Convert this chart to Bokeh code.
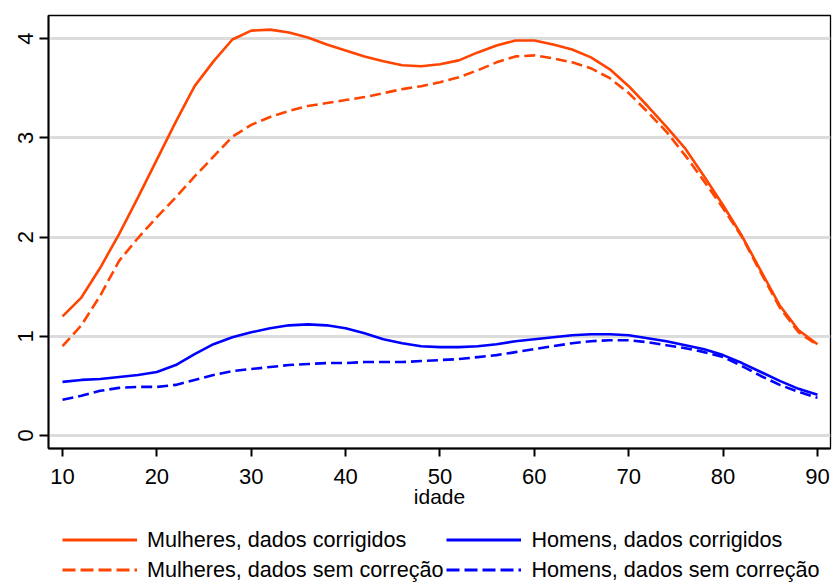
from bokeh.plotting import figure
from bokeh.models import Range1d, Legend, LegendItem, FixedTicker
from bokeh.layouts import column
from bokeh.embed import file_html
from bokeh.resources import INLINE

# ---- data ----
idade = [10, 12, 14, 16, 18, 20, 22, 24, 26, 28, 30, 32, 34, 36, 38, 40, 42, 44, 46, 48,
         50, 52, 54, 56, 58, 60, 62, 64, 66, 68, 70, 72, 74, 76, 78, 80, 82, 84, 86, 88, 90]

mulheres_corrigidos = [1.20, 1.39, 1.69, 2.03, 2.40, 2.78, 3.16, 3.52, 3.77, 3.99, 4.08, 4.09, 4.06,
                       4.01, 3.94, 3.88, 3.82, 3.77, 3.73, 3.72, 3.74, 3.78, 3.86, 3.93, 3.98, 3.98,
                       3.94, 3.89, 3.81, 3.69, 3.52, 3.32, 3.11, 2.89, 2.61, 2.32, 2.01, 1.66, 1.31,
                       1.06, 0.92]

mulheres_sem_correcao = [0.90, 1.11, 1.41, 1.76, 1.99, 2.20, 2.40, 2.61, 2.81, 3.01, 3.13, 3.21, 3.27,
                         3.32, 3.35, 3.38, 3.41, 3.45, 3.49, 3.52, 3.56, 3.61, 3.68, 3.76, 3.82, 3.83,
                         3.80, 3.76, 3.70, 3.60, 3.45, 3.26, 3.06, 2.82, 2.56, 2.29, 2.00, 1.64, 1.29,
                         1.04, 0.91]

homens_corrigidos = [0.54, 0.56, 0.57, 0.59, 0.61, 0.64, 0.71, 0.82, 0.92, 0.99, 1.04, 1.08, 1.11,
                     1.12, 1.11, 1.08, 1.03, 0.97, 0.93, 0.90, 0.89, 0.89, 0.90, 0.92, 0.95, 0.97,
                     0.99, 1.01, 1.02, 1.02, 1.01, 0.98, 0.95, 0.91, 0.87, 0.81, 0.73, 0.64, 0.55,
                     0.47, 0.41]

homens_sem_correcao = [0.36, 0.40, 0.45, 0.48, 0.49, 0.49, 0.51, 0.56, 0.61, 0.65, 0.67, 0.69, 0.71,
                       0.72, 0.73, 0.73, 0.74, 0.74, 0.74, 0.75, 0.76, 0.77, 0.79, 0.81, 0.84, 0.87,
                       0.90, 0.93, 0.95, 0.96, 0.96, 0.94, 0.91, 0.88, 0.84, 0.79, 0.70, 0.60, 0.51,
                       0.44, 0.38]

x_ticks = [10, 20, 30, 40, 50, 60, 70, 80, 90]
y_ticks = [0, 1, 2, 3, 4]
x_label = "idade"
series_labels = ["Mulheres, dados corrigidos", "Mulheres, dados sem correção",
                 "Homens, dados corrigidos", "Homens, dados sem correção"]

series = [mulheres_corrigidos, mulheres_sem_correcao, homens_corrigidos, homens_sem_correcao]
colors = ["#FF4500", "#FF4500", "#0000FF", "#0000FF"]
dashes = ["solid", "11 5", "solid", "11 5"]
FONT = "Liberation Sans"

# ---------------- main plot ----------------
p = figure(width=836, height=520, output_backend="svg", toolbar_location=None,
           x_range=Range1d(8.517, 91.38), y_range=Range1d(-0.131, 4.232),
           min_border_left=48, min_border_right=6, min_border_top=15, min_border_bottom=72)

p.background_fill_color = "white"
p.border_fill_color = "white"
p.outline_line_color = "black"
p.outline_line_width = 1.3

p.xgrid.visible = False
p.ygrid.ticker = FixedTicker(ticks=y_ticks)
p.ygrid.grid_line_color = "#DCDCDC"
p.ygrid.grid_line_width = 3

p.xaxis.ticker = FixedTicker(ticks=x_ticks)
p.yaxis.ticker = FixedTicker(ticks=y_ticks)
for ax in (p.xaxis[0], p.yaxis[0]):
    ax.axis_line_color = "black"
    ax.axis_line_width = 2
    ax.major_tick_line_color = "black"
    ax.major_tick_line_width = 2
    ax.major_tick_in = 0
    ax.minor_tick_line_color = None
    ax.major_label_text_font = FONT
    ax.major_label_text_font_size = "22px"
    ax.major_label_text_color = "black"

p.xaxis.major_tick_out = 8
p.xaxis.major_label_standoff = 12
p.xaxis.axis_label = x_label
p.xaxis.axis_label_text_font = FONT
p.xaxis.axis_label_text_font_size = "21px"
p.xaxis.axis_label_text_font_style = "normal"
p.xaxis.axis_label_text_color = "black"
p.xaxis.axis_label_standoff = -2

p.yaxis.major_tick_out = 9
p.yaxis.major_label_standoff = 6
p.yaxis.major_label_orientation = "vertical"

for ys, c, d in zip(series, colors, dashes):
    p.line(idade, ys, line_color=c, line_width=2.6, line_dash=d)

# ---------------- legend strip ----------------
lg = figure(width=836, height=63, output_backend="svg", toolbar_location=None,
            x_axis_location=None, y_axis_location=None,
            x_range=Range1d(1000, 1001), y_range=Range1d(1000, 1001),
            min_border_left=0, min_border_right=0, min_border_top=0, min_border_bottom=0)
lg.outline_line_color = None
lg.grid.visible = False
items = []
for lab, ys, c, d in zip(series_labels, series, colors, dashes):
    r = lg.line(idade, ys, line_color=c, line_width=3.2,
                line_dash=("13 5" if d != "solid" else "solid"))
    items.append(LegendItem(label=lab, renderers=[r]))

legend = Legend(items=items, location=(14, 0), orientation="vertical", ncols=2,
                glyph_width=75, glyph_height=27, label_standoff=10, label_height=27,
                spacing=3, padding=0, margin=0,
                border_line_color=None, background_fill_alpha=0,
                label_text_font=FONT, label_text_font_size="21.6px", label_text_color="black")
lg.add_layout(legend, "center")

layout = column(p, lg, spacing=0)
open("out.html", "w").write(file_html(layout, INLINE))
